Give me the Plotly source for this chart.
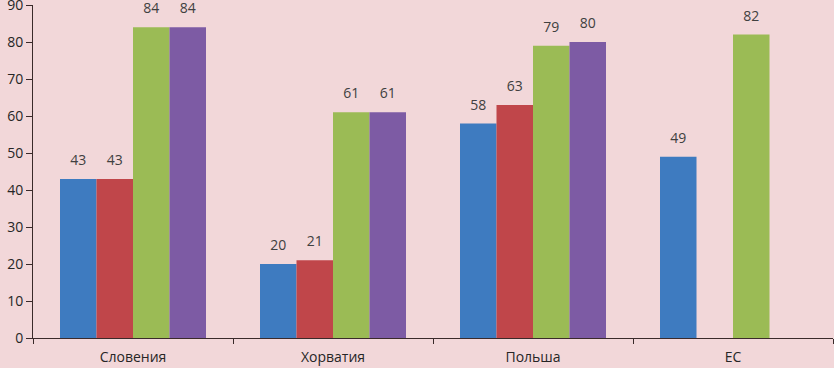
import plotly.graph_objects as go

categories = ["Словения", "Хорватия", "Польша", "ЕС"]
series1 = [43, 20, 58, 49]
series2 = [43, 21, 63, None]
series3 = [84, 61, 79, 82]
series4 = [84, 61, 80, None]
y_ticks = [0, 10, 20, 30, 40, 50, 60, 70, 80, 90]

colors = ["#3E7BC0", "#C0464A", "#9BBB55", "#7D5BA4"]
series = [series1, series2, series3, series4]

fig = go.Figure()
for i, (vals, c) in enumerate(zip(series, colors)):
    fig.add_trace(go.Bar(
        x=categories, y=vals, marker=dict(color=c, line=dict(width=0)),
        offsetgroup=str(i), alignmentgroup="g",
        showlegend=False, hoverinfo="skip",
    ))
for i, vals in enumerate(series):
    fig.add_trace(go.Scatter(
        x=categories, y=vals, mode="markers+text",
        offsetgroup=str(i), alignmentgroup="g",
        marker=dict(size=15, color="rgba(0,0,0,0)"),
        text=[("" if v is None else str(v)) for v in vals],
        textposition="top center", cliponaxis=False,
        textfont=dict(size=14, color="#404040", family="Open Sans"),
        showlegend=False,
    ))

fig.update_layout(
    width=834, height=368,
    margin=dict(l=33, r=1, t=5, b=30, autoexpand=False),
    paper_bgcolor="#F2D7D9", plot_bgcolor="#F2D7D9",
    barmode="group", bargap=0.27, bargroupgap=0,
    scattermode="group", scattergap=0.27,
    font=dict(family="Open Sans", size=14, color="#262626"),
    xaxis=dict(showline=True, linecolor="#3A2A2A", linewidth=1,
               ticks="outside", tickson="boundaries", ticklen=5,
               tickcolor="#3A2A2A", showgrid=False, automargin=False,
               ticklabelstandoff=6,
               tickfont=dict(size=14, color="#262626")),
    yaxis=dict(range=[0, 90], tickvals=y_ticks, showline=True,
               linecolor="#3A2A2A", linewidth=1, ticks="outside",
               ticklen=6, tickcolor="#3A2A2A", showgrid=False,
               zeroline=False, automargin=False, ticklabeloverflow="allow",
               tickfont=dict(size=14, color="#262626")),
)

fig.write_html("out.html", config={"displayModeBar": False},
               post_script="document.body.style.margin='0';")
